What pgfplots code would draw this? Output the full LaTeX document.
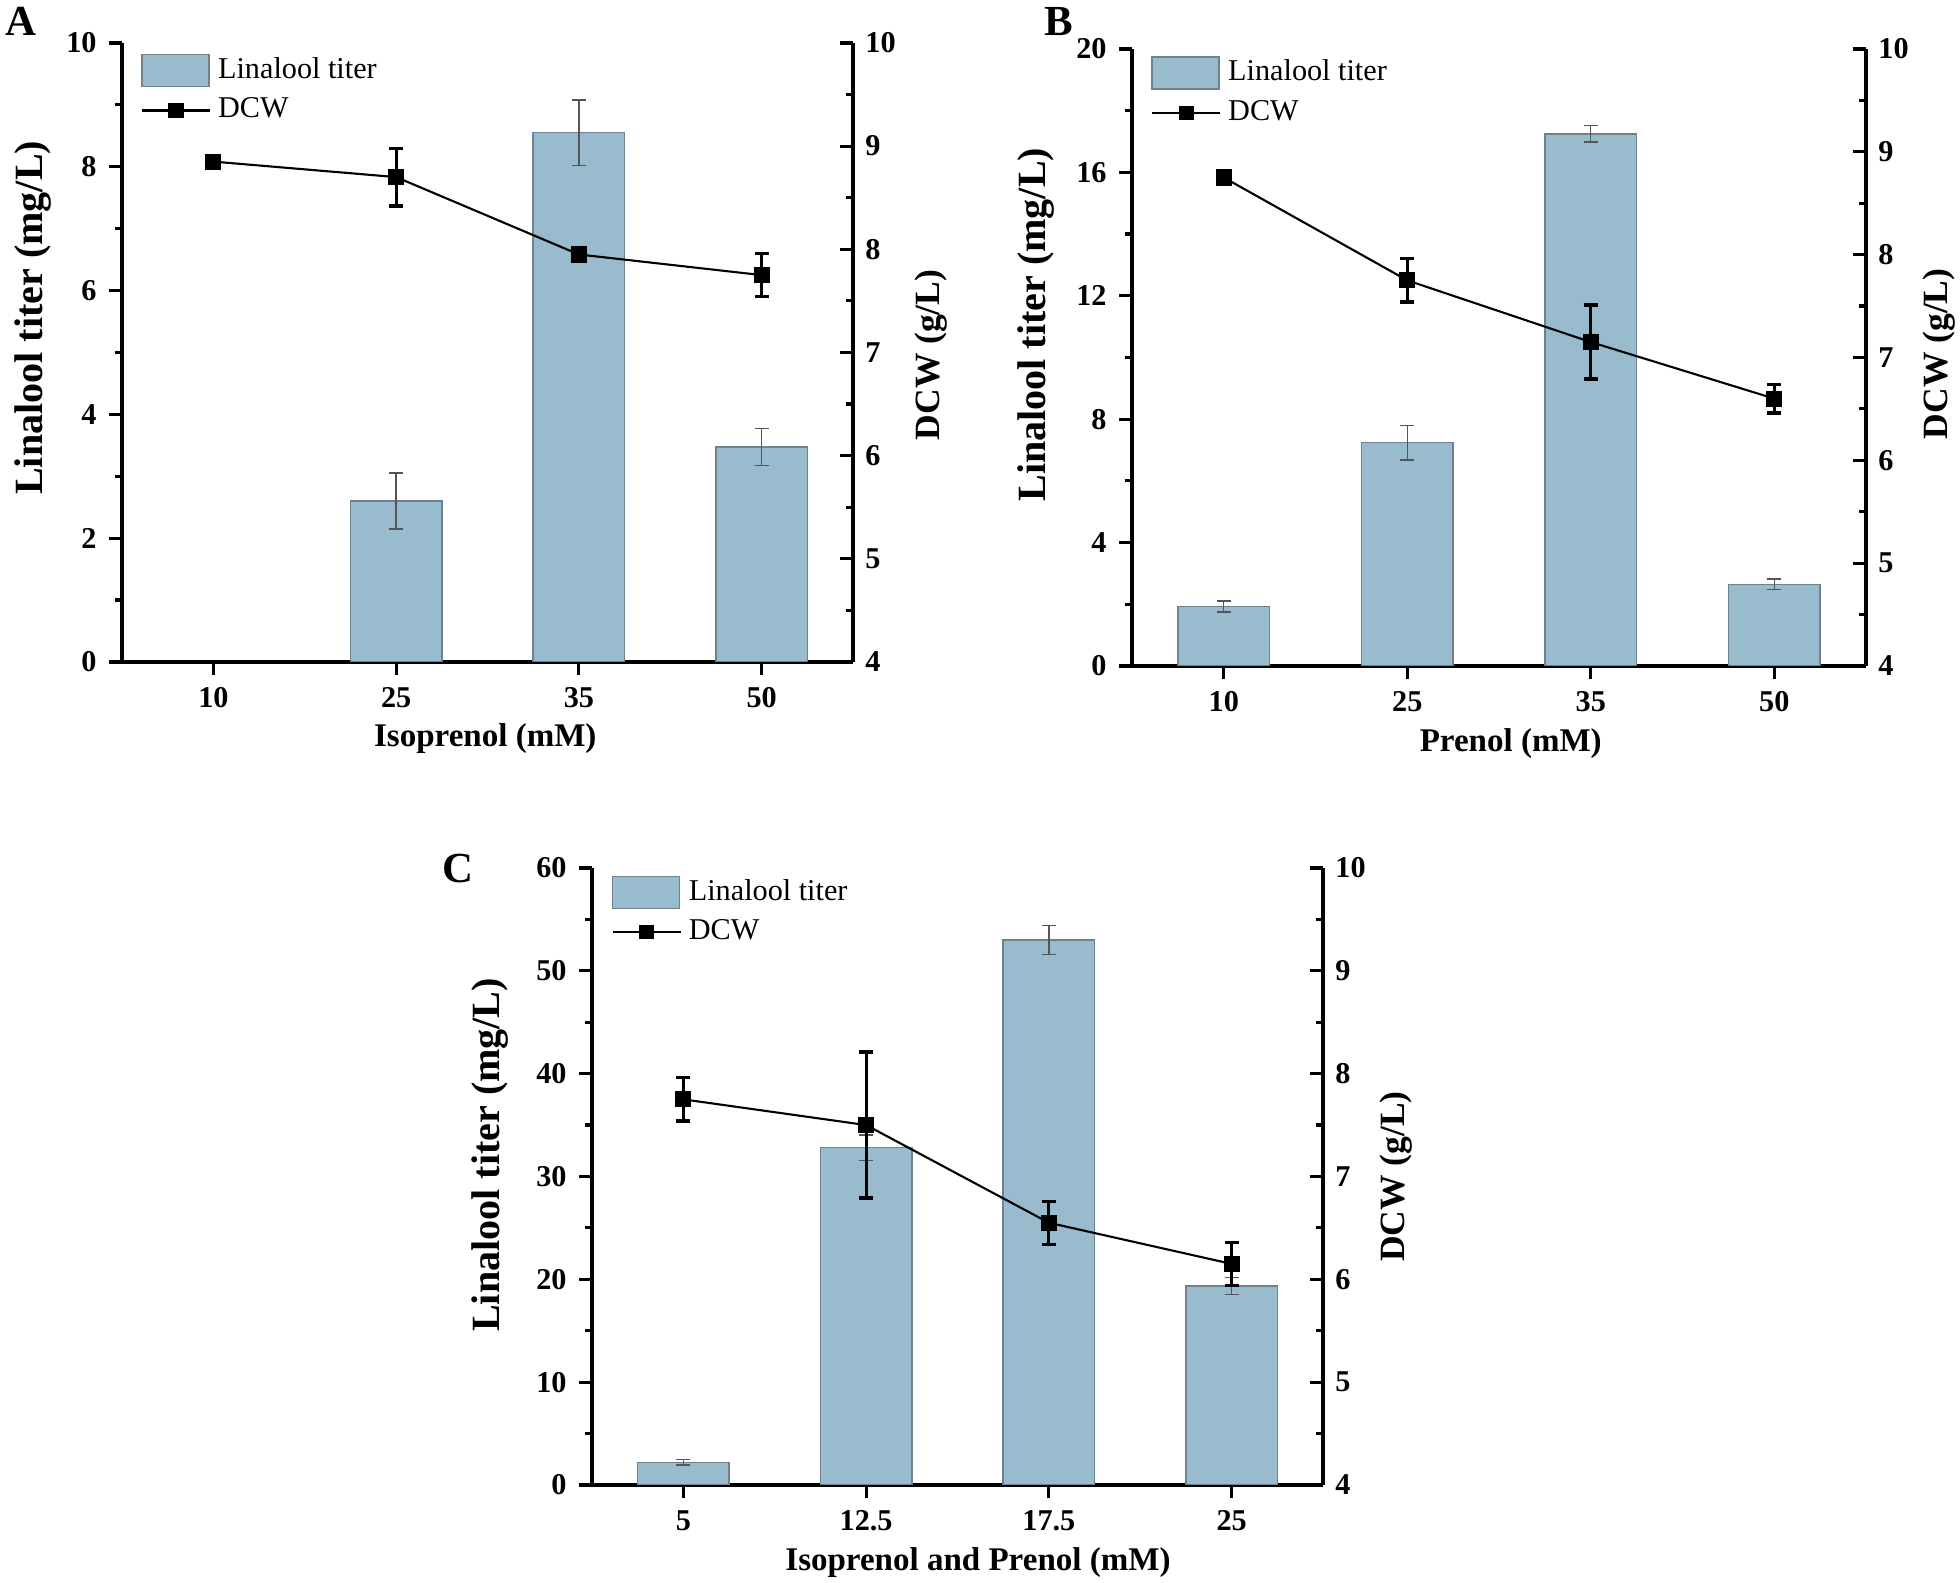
\documentclass[border=0pt]{standalone}
\usepackage{pgfplots}
\pgfplotsset{compat=1.18}
\usepackage{fontspec}
\setmainfont{Liberation Serif}

\definecolor{barfill}{RGB}{152,187,206}
\definecolor{baredge}{RGB}{110,130,142}
\definecolor{errgray}{RGB}{85,85,85}

\pgfplotsset{
  panel/.style={
    scale only axis, anchor=south west,
    xmin=-0.5, xmax=3.5, xtick={0,1,2,3},
    /pgf/number format/assume math mode=true,
    tick label style={font=\fontsize{8.6}{10}\selectfont\bfseries},
    major tick length=1.3mm, minor tick length=0.75mm,
    axis line style={line width=0.9pt, -},
    tick style={line width=0.9pt, black},
    minor y tick num=1,
  },
  leftax/.style={panel,
    axis x line*=bottom, axis y line*=left, tick align=outside,
    xlabel style={font=\fontsize{9.4}{11}\selectfont\bfseries, anchor=center},
    ylabel style={font=\fontsize{11.4}{13}\selectfont\bfseries, anchor=center},
  },
  rightax/.style={panel,
    axis x line=none, axis y line*=right, tick align=inside,
    ylabel style={font=\fontsize{10.1}{12}\selectfont\bfseries, anchor=center},
    legend style={draw=none, fill=none, inner sep=0pt, column sep=0pt, row sep=0pt,
      font=\fontsize{8.6}{10}\selectfont, anchor=north west},
    legend cell align=left,
  },
  titerbars/.style={ybar, bar width=0.5, fill=barfill, draw=baredge, line width=0.4pt,
    error bars/.cd, y dir=both, y explicit,
    error bar style={line width=0.4pt, errgray},
    error mark options={rotate=90, mark size=0.7mm, errgray, line width=0.4pt}},
  dcwline/.style={black, line width=0.6pt, mark=square*, mark size=0.7mm,
    error bars/.cd, y dir=both, y explicit,
    error bar style={line width=0.9pt, black},
    error mark options={rotate=90, mark size=0.7mm, black, line width=0.9pt}},
  barlegend/.style={legend image code/.code={\draw[fill=barfill, draw=baredge, line width=0.4pt] (0mm,-1.6mm) rectangle (6.7mm,1.6mm);}},
  linelegend/.style={legend image code/.code={\draw[black, line width=0.6pt] (0mm,0mm) -- (6.8mm,0mm);
      \fill[black] (2.75mm,-0.6mm) rectangle (4.05mm,0.6mm);}},
}

\begin{document}
\begin{tikzpicture}
\useasboundingbox (0,0) rectangle (196mm,158.3mm);

% ---------- A ----------
\node[anchor=north west, inner sep=0pt, font=\fontsize{12.2}{14}\selectfont\bfseries] at (0.5mm,157.6mm) {A};
\begin{axis}[leftax, at={(12.2mm,92.1mm)}, width=73.1mm, height=61.9mm,
  ymin=0, ymax=10, ytick={0,2,...,10},
  xticklabels={10,25,35,50},
  xlabel={Isoprenol (mM)}, xlabel style={at={(axis description cs:0.497,-0.124)}},
  ylabel={Linalool titer (mg/L)}, ylabel style={at={(axis description cs:-0.122,0.556)}}]
\addplot[titerbars] coordinates {(1,2.6) +- (0,0.45) (2,8.55) +- (0,0.53) (3,3.47) +- (0,0.30)};
\end{axis}
\begin{axis}[rightax, at={(12.2mm,92.1mm)}, width=73.1mm, height=61.9mm,
  ymin=4, ymax=10, ytick={4,...,10},
  ylabel={DCW (g/L)}, ylabel style={at={(axis description cs:1.107,0.496)}},
  legend style={at={(axis description cs:0.025,0.989)}}]
\addlegendimage{barlegend}
\addlegendentry{Linalool titer}
\addplot[linelegend, dcwline] coordinates {(0,8.85) +- (0,0) (1,8.70) +- (0,0.28) (2,7.95) +- (0,0.04) (3,7.75) +- (0,0.21)};
\addlegendentry{DCW}
\end{axis}

% ---------- B ----------
\node[anchor=north west, inner sep=0pt, font=\fontsize{12.2}{14}\selectfont\bfseries] at (104.4mm,157.6mm) {B};
\begin{axis}[leftax, at={(113.2mm,91.7mm)}, width=73.4mm, height=61.7mm,
  ymin=0, ymax=20, ytick={0,4,...,20},
  xticklabels={10,25,35,50},
  xlabel={Prenol (mM)}, xlabel style={at={(axis description cs:0.516,-0.125)}},
  ylabel={Linalool titer (mg/L)}, ylabel style={at={(axis description cs:-0.131,0.553)}}]
\addplot[titerbars] coordinates {(0,1.93) +- (0,0.18) (1,7.24) +- (0,0.56) (2,17.25) +- (0,0.26) (3,2.65) +- (0,0.17)};
\end{axis}
\begin{axis}[rightax, at={(113.2mm,91.7mm)}, width=73.4mm, height=61.7mm,
  ymin=4, ymax=10, ytick={4,...,10},
  ylabel={DCW (g/L)}, ylabel style={at={(axis description cs:1.10,0.506)}},
  legend style={at={(axis description cs:0.025,0.995)}}]
\addlegendimage{barlegend}
\addlegendentry{Linalool titer}
\addplot[linelegend, dcwline] coordinates {(0,8.75) +- (0,0.04) (1,7.75) +- (0,0.21) (2,7.15) +- (0,0.36) (3,6.60) +- (0,0.14)};
\addlegendentry{DCW}
\end{axis}

% ---------- C ----------
\node[anchor=north west, inner sep=0pt, font=\fontsize{12.2}{14}\selectfont\bfseries] at (44.2mm,73.0mm) {C};
\begin{axis}[leftax, at={(59.2mm,9.8mm)}, width=73.1mm, height=61.7mm,
  ymin=0, ymax=60, ytick={0,10,...,60},
  xticklabels={5,12.5,17.5,25},
  xlabel={Isoprenol and Prenol (mM)}, xlabel style={at={(axis description cs:0.528,-0.125)}},
  ylabel={Linalool titer (mg/L)}, ylabel style={at={(axis description cs:-0.14,0.535)}}]
\addplot[titerbars] coordinates {(0,2.2) +- (0,0.25) (1,32.8) +- (0,1.25) (2,53.0) +- (0,1.4) (3,19.35) +- (0,0.85)};
\end{axis}
\begin{axis}[rightax, at={(59.2mm,9.8mm)}, width=73.1mm, height=61.7mm,
  ymin=4, ymax=10, ytick={4,...,10},
  ylabel={DCW (g/L)}, ylabel style={at={(axis description cs:1.10,0.50)}},
  legend style={at={(axis description cs:0.026,0.994)}}]
\addlegendimage{barlegend}
\addlegendentry{Linalool titer}
\addplot[linelegend, dcwline] coordinates {(0,7.75) +- (0,0.21) (1,7.50) +- (0,0.71) (2,6.55) +- (0,0.21) (3,6.15) +- (0,0.21)};
\addlegendentry{DCW}
\end{axis}
\end{tikzpicture}
\end{document}
